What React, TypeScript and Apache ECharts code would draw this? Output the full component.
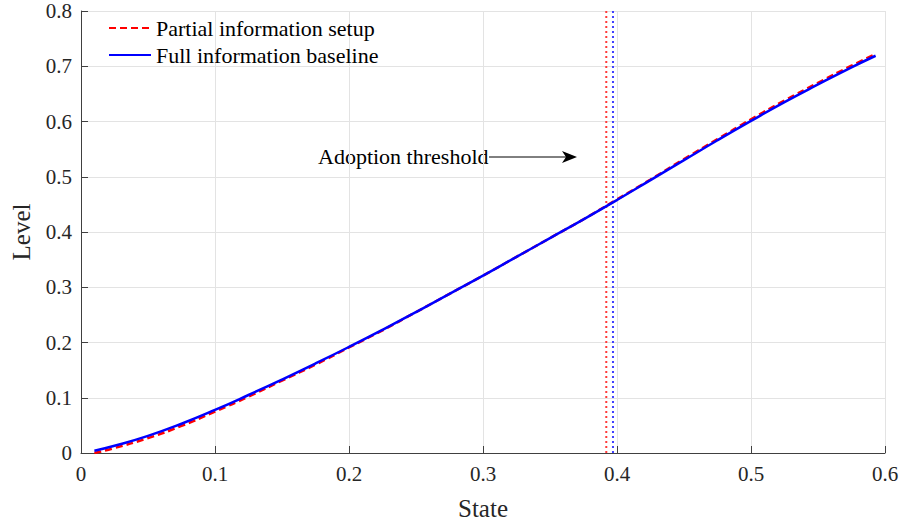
import React, { useEffect, useRef } from "react";
import * as echarts from "echarts";

const xs = [0.01, 0.025, 0.05, 0.075, 0.1, 0.125, 0.15, 0.175, 0.2, 0.225, 0.25, 0.275, 0.3, 0.325, 0.35, 0.375, 0.4, 0.425, 0.45, 0.475, 0.5, 0.525, 0.55, 0.575, 0.593];
const fullInfo = [0.004, 0.013, 0.031, 0.053, 0.078, 0.105, 0.133, 0.162, 0.192, 0.223, 0.255, 0.288, 0.321, 0.355, 0.389, 0.423, 0.458, 0.494, 0.530, 0.566, 0.601, 0.635, 0.667, 0.698, 0.719];
const partialInfo = [0.0, 0.009, 0.027, 0.049, 0.075, 0.102, 0.131, 0.160, 0.191, 0.222, 0.255, 0.288, 0.321, 0.355, 0.389, 0.423, 0.459, 0.495, 0.532, 0.568, 0.604, 0.638, 0.670, 0.701, 0.722];
const thresholdPartial = 0.392;
const thresholdFull = 0.397;
const xTicks = { min: 0, max: 0.6, interval: 0.1 };
const yTicks = { min: 0, max: 0.8, interval: 0.1 };

const FONT = "Liberation Serif";
const TXT = "#262626";

export default function App() {
  const ref = useRef<HTMLDivElement>(null);
  useEffect(() => {
    document.body.style.margin = "0";
    const chart = echarts.init(ref.current!, null, { renderer: "svg" });
    chart.setOption({
      animation: false,
      backgroundColor: "#ffffff",
      textStyle: { fontFamily: FONT },
      grid: { left: 81, right: 19, top: 11, bottom: 74, containLabel: false },
      legend: {
        data: ["Partial information setup", "Full information baseline"],
        orient: "vertical",
        left: 108,
        top: 17,
        padding: 0,
        itemWidth: 42,
        itemHeight: 14,
        itemGap: 5,
        itemStyle: { opacity: 0 },
        textStyle: { fontFamily: FONT, fontSize: 22, color: "#000", lineHeight: 22 },
      },
      xAxis: {
        type: "value",
        min: xTicks.min,
        max: xTicks.max,
        interval: xTicks.interval,
        name: "State",
        nameLocation: "middle",
        nameGap: 43,
        nameTextStyle: { fontFamily: FONT, fontSize: 25, color: TXT },
        axisLine: { show: true, onZero: false, lineStyle: { color: "#404040", width: 1 } },
        axisTick: { show: true, inside: true, length: 7, lineStyle: { color: "#404040" } },
        axisLabel: { fontFamily: FONT, fontSize: 21, color: TXT, margin: 10 },
        splitLine: { show: true, lineStyle: { color: "#e3e3e3", width: 1 } },
      },
      yAxis: {
        type: "value",
        min: yTicks.min,
        max: yTicks.max,
        interval: yTicks.interval,
        name: "Level",
        nameLocation: "middle",
        nameGap: 47,
        nameTextStyle: { fontFamily: FONT, fontSize: 25, color: TXT },
        axisLine: { show: true, onZero: false, lineStyle: { color: "#404040", width: 1 } },
        axisTick: { show: true, inside: true, length: 7, lineStyle: { color: "#404040" } },
        axisLabel: { fontFamily: FONT, fontSize: 21, color: TXT, margin: 9 },
        splitLine: { show: true, lineStyle: { color: "#e3e3e3", width: 1 } },
      },
      series: [
        {
          name: "thrP",
          type: "line",
          data: [[thresholdPartial, yTicks.min], [thresholdPartial, yTicks.max]],
          showSymbol: false,
          symbol: "none",
          lineStyle: { color: "#ff3a3a", width: 2, type: [2, 3] },
          silent: true,
        },
        {
          name: "thrF",
          type: "line",
          data: [[thresholdFull, yTicks.min], [thresholdFull, yTicks.max]],
          showSymbol: false,
          symbol: "none",
          lineStyle: { color: "#4040ff", width: 2, type: [2, 3] },
          silent: true,
        },
        {
          name: "Partial information setup",
          type: "line",
          data: xs.map((x, i) => [x, partialInfo[i]]),
          symbol: "none",
          smooth: true,
          itemStyle: { color: "#ff0000" },
          lineStyle: { color: "#ff0000", width: 2.5, type: [7, 4] },
        },
        {
          name: "Full information baseline",
          type: "line",
          data: xs.map((x, i) => [x, fullInfo[i]]),
          symbol: "none",
          smooth: true,
          itemStyle: { color: "#0000ff" },
          lineStyle: { color: "#0000ff", width: 2.5 },
        },
      ],
      graphic: [
        {
          type: "text",
          x: 318,
          y: 156,
          style: {
            text: "Adoption threshold",
            fontFamily: FONT,
            fontSize: 22,
            fill: "#000",
            textVerticalAlign: "middle",
            verticalAlign: "middle",
          },
        },
        {
          type: "line",
          shape: { x1: 489, y1: 157, x2: 570, y2: 157 },
          style: { stroke: "#000", lineWidth: 1 },
        },
        {
          type: "polygon",
          shape: { points: [[577, 157], [562, 151], [566, 157], [562, 163]] },
          style: { fill: "#000" },
        },
      ],
    });
    return () => chart.dispose();
  }, []);
  return <div ref={ref} style={{ width: 904, height: 527 }} />;
}
